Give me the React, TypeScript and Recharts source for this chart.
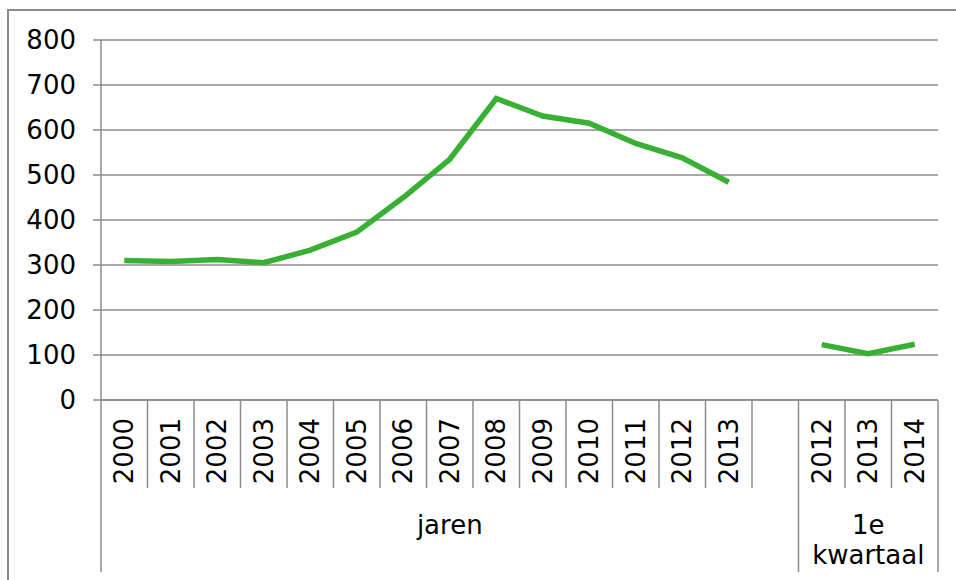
import { ComposedChart, Line, XAxis, YAxis, CartesianGrid } from 'recharts'

const categories = ['2000', '2001', '2002', '2003', '2004', '2005', '2006', '2007', '2008', '2009', '2010', '2011', '2012', '2013', '', '2012', '2013', '2014']
const values = [310, 308, 312, 305, 333, 373, 450, 535, 670, 631, 615, 570, 538, 484, null, 123, 103, 124]
const yTicks = [0, 100, 200, 300, 400, 500, 600, 700, 800]
const groups = [
  { lines: ['jaren'], start: 0, end: 14 },
  { lines: ['1e', 'kwartaal'], start: 15, end: 17 },
]

const W = 956
const H = 580
const M = { top: 40, right: 18, bottom: 0, left: 0 }
const Y_AXIS_W = 101
const X_AXIS_H = 180
const PLOT_W = W - M.left - M.right - Y_AXIS_W
const GREY = '#8c8c8c'
const FONT = 'DejaVu Sans, Verdana, sans-serif'

const data = categories.map((label, i) => ({ id: String(i), label, value: values[i] }))

function CategoryTick(props: any) {
  const { x, y, index } = props
  const slot = PLOT_W / categories.length
  const left = x - slot / 2
  const groupStart = groups.find(g => g.start === index)
  const shortLen = 88
  const longLen = 172
  const groupMid = groupStart ? left + ((groupStart.end - groupStart.start + 1) * slot) / 2 : 0
  return (
    <g>
      <line x1={left} y1={y} x2={left} y2={y + (groupStart ? longLen : shortLen)} stroke={GREY} strokeWidth={1.5} />
      {index === categories.length - 1 && (
        <line x1={left + slot} y1={y} x2={left + slot} y2={y + longLen} stroke={GREY} strokeWidth={1.5} />
      )}
      {categories[index] && (
        <text
          x={x}
          y={y + 18}
          transform={`rotate(-90, ${x}, ${y + 18})`}
          textAnchor="end"
          dominantBaseline="central"
          fontSize={26}
          fontFamily={FONT}
          fill="#000"
        >
          {categories[index]}
        </text>
      )}
      {groupStart && (
        <text x={groupMid} y={y + 134} textAnchor="middle" fontSize={26} fontFamily={FONT} fill="#000">
          {groupStart.lines.map((t, k) => (
            <tspan key={k} x={groupMid} dy={k === 0 ? 0 : 30}>
              {t}
            </tspan>
          ))}
        </text>
      )}
    </g>
  )
}

export default function App() {
  return (
    <div style={{ position: 'absolute', left: 0, top: 0, width: W, height: H, overflow: 'hidden', background: '#fff' }}>
      <div
        style={{
          position: 'absolute',
          left: 7,
          top: 9,
          width: W,
          height: H,
          borderLeft: `2px solid ${GREY}`,
          borderTop: `2px solid ${GREY}`,
        }}
      />
      <div style={{ position: 'absolute', left: 0, top: 0 }}>
        <ComposedChart width={W} height={H} data={data} margin={M}>
          <CartesianGrid horizontal vertical={false} stroke={GREY} strokeWidth={1.5} />
          <XAxis
            dataKey="id"
            scale="band"
            interval={0}
            height={X_AXIS_H}
            tickLine={false}
            tickSize={0}
            tickMargin={0}
            axisLine={{ stroke: GREY, strokeWidth: 1.5 }}
            tick={<CategoryTick />}
          />
          <YAxis
            domain={[0, 800]}
            ticks={yTicks}
            width={Y_AXIS_W}
            tickSize={8}
            tickMargin={17}
            tickLine={{ stroke: GREY, strokeWidth: 1.5 }}
            axisLine={{ stroke: GREY, strokeWidth: 1.5 }}
            tick={{ fontSize: 26, fontFamily: FONT, fill: '#000' }}
          />
          <Line
            dataKey="value"
            stroke="#38b033"
            strokeWidth={5.5}
            dot={false}
            activeDot={false}
            connectNulls={false}
            isAnimationActive={false}
          />
        </ComposedChart>
      </div>
    </div>
  )
}
